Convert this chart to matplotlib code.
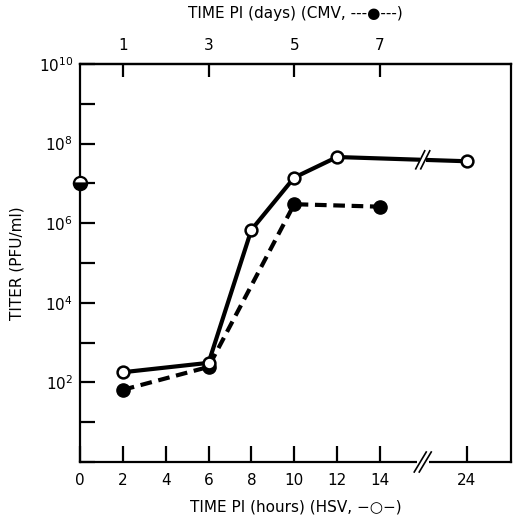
import numpy as np
import matplotlib
matplotlib.use("Agg")
import matplotlib.pyplot as plt
from matplotlib.lines import Line2D
from matplotlib.transforms import IdentityTransform

plt.rcParams['font.family'] = ['DejaVu Sans']
plt.rcParams['font.size'] = 11

# HSV (hours PI), open circles, solid line
hsv_hours = [2, 6, 8, 10, 12, 24]
hsv_titer = [1.8e2, 3.1e2, 6.8e5, 1.4e7, 4.6e7, 3.6e7]

# CMV (days PI), filled circles, dashed line
cmv_days = [1, 3, 5, 7]
cmv_titer = [65, 2.45e2, 3.0e6, 2.6e6]

# inoculum at time 0 (half filled)
inoc_hours = [0]
inoc_titer = [1.0e7]

hour_ticks = [0, 2, 4, 6, 8, 10, 12, 14, 24]
day_ticks = [1, 3, 5, 7]
decades = list(range(0, 11))

# broken x axis: linear up to 16 h, squeezed after
BREAK = 16.0
SQUEEZE = 0.2575


def fwd(h):
    h = np.asarray(h, dtype=float)
    return np.where(h <= BREAK, h, BREAK + (h - BREAK) * SQUEEZE)


def inv(v):
    v = np.asarray(v, dtype=float)
    return np.where(v <= BREAK, v, BREAK + (v - BREAK) / SQUEEZE)


fig = plt.figure(figsize=(5.16, 5.18), dpi=100)
ax = fig.add_axes([80 / 516, 1 - 462 / 518, 431 / 516, 398 / 518])
ax.set_xscale('function', functions=(fwd, inv))
ax.set_yscale('log')
ax.set_xlim(0, 32)
ax.set_ylim(1, 1e10)

lw = 3
cmv_hours = [2 * d for d in cmv_days]
ax.plot(hsv_hours, hsv_titer, color='black', lw=lw, marker='o', ms=8.5,
        mfc='white', mec='black', mew=1.8, zorder=4)
ax.plot(cmv_hours, cmv_titer, color='black', lw=lw, ls=(0, (2.8, 1.6)),
        marker='o', ms=9.5, mfc='black', mec='black', zorder=3)

top = ax.twiny()
top.set_xscale('function', functions=(fwd, inv))
top.set_xlim(ax.get_xlim())
# half filled inoculum point, drawn on the twin so it sits above the spine
top.plot(inoc_hours, inoc_titer, ls='none', marker='o', ms=9.5, fillstyle='bottom',
         mfc='black', mfcalt='white', mec='black', mew=1.6, clip_on=False, zorder=5)

# axes styling
for s in ax.spines.values():
    s.set_linewidth(1.6)
ax.set_xticks(hour_ticks)
ax.set_xticklabels([str(h) for h in hour_ticks])
ax.xaxis.set_minor_locator(matplotlib.ticker.NullLocator())
ax.set_ylim(1, 1e10)
ax.set_yticks([10.0 ** k for k in decades])
ax.set_yticklabels([r'$10^{%d}$' % k if (k % 2 == 0 and k > 0) else '' for k in decades])
ax.yaxis.set_minor_locator(matplotlib.ticker.NullLocator())
ax.tick_params(axis='x', direction='in', length=11.5, width=1.6, pad=8)
ax.tick_params(axis='y', direction='in', length=11, width=1.6, pad=5)
ax.tick_params(axis='y', which='both', right=False)

ax.set_xlabel('TIME PI (hours) (HSV, \u2212\u25cb\u2212)', labelpad=8)
ax.set_ylabel('TITER (PFU/ml)', labelpad=10)

top.set_xticks([2 * d for d in day_ticks])
top.set_xticklabels([str(d) for d in day_ticks])
top.xaxis.set_minor_locator(matplotlib.ticker.NullLocator())
top.tick_params(axis='x', direction='in', length=9.5, width=1.6, pad=8)
top.set_xlabel('TIME PI (days) (CMV, ---\u25cf---)', labelpad=14)
top.spines['top'].set_linewidth(1.6)
for side in ('left', 'right', 'bottom'):
    top.spines[side].set_visible(False)

fig.canvas.draw()


def slashes(xd, yd, w, h, gap, cover, white_lw):
    x0, y0 = ax.transData.transform((xd, yd))
    fig.add_artist(Line2D([x0 - cover, x0 + cover], [y0, y0], transform=IdentityTransform(),
                          color='white', lw=white_lw, solid_capstyle='butt', zorder=10))
    for dx in (-gap / 2, gap / 2):
        fig.add_artist(Line2D([x0 + dx - w / 2, x0 + dx + w / 2], [y0 - h, y0 + h],
                              transform=IdentityTransform(), color='black', lw=1.2, zorder=11))


# break on the x axis
slashes(BREAK, 1.0, w=12, h=10, gap=5, cover=6, white_lw=4)
# break on the HSV line between 12 h and 24 h
p12 = ax.transData.transform((hsv_hours[-2], hsv_titer[-2]))
p24 = ax.transData.transform((hsv_hours[-1], hsv_titer[-1]))
pb = ax.transData.transform((BREAK, 1.0))
t = (pb[0] - p12[0]) / (p24[0] - p12[0])
yb = ax.transData.inverted().transform((pb[0], p12[1] + t * (p24[1] - p12[1])))[1]
slashes(BREAK, yb, w=9, h=9, gap=5, cover=3, white_lw=6)

fig.savefig('out.png', dpi=100)
